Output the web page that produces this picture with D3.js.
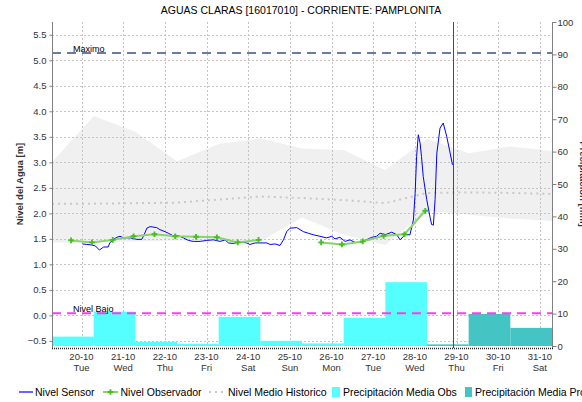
<!DOCTYPE html>
<html>
<head>
<meta charset="utf-8">
<script src="https://cdn.jsdelivr.net/npm/d3@7"></script>
<style>
  html, body { margin: 0; padding: 0; background: #fff; }
  svg { display: block; font-family: "Liberation Sans", Arial, sans-serif; }
</style>
</head>
<body>
<svg id="chart" width="582" height="402"></svg>
<script>
// ---- Data ----
const title = "AGUAS CLARAS [16017010] - CORRIENTE: PAMPLONITA";
const dayTicks = ["2020-10-20","2020-10-21","2020-10-22","2020-10-23","2020-10-24","2020-10-25",
                  "2020-10-26","2020-10-27","2020-10-28","2020-10-29","2020-10-30","2020-10-31"];
const levelTicks = [-0.5,0,0.5,1,1.5,2,2.5,3,3.5,4,4.5,5,5.5];
const rainTicks = [0,10,20,30,40,50,60,70,80,90,100];

const thresholdMax = 5.14;     // Maximo
const thresholdLow = 0.04;     // Nivel Bajo
const nowTime = "2020-10-28 22:00";

// Sensor water level [m]
const sensorLevel = [
  ["2020-10-20 00:30",1.40],["2020-10-20 03:00",1.39],["2020-10-20 06:00",1.38],["2020-10-20 08:00",1.36],
  ["2020-10-20 10:20",1.28],["2020-10-20 12:40",1.34],["2020-10-20 15:20",1.34],["2020-10-20 16:20",1.42],
  ["2020-10-20 18:20",1.49],["2020-10-20 20:20",1.53],["2020-10-20 22:10",1.55],["2020-10-21 00:10",1.52],
  ["2020-10-21 04:00",1.52],["2020-10-21 07:50",1.49],["2020-10-21 10:40",1.49],["2020-10-21 11:40",1.55],
  ["2020-10-21 13:40",1.71],["2020-10-21 15:30",1.74],["2020-10-21 19:20",1.72],["2020-10-21 21:10",1.68],
  ["2020-10-22 00:10",1.64],["2020-10-22 02:00",1.61],["2020-10-22 04:50",1.56],["2020-10-22 07:50",1.56],
  ["2020-10-22 10:40",1.52],["2020-10-22 13:30",1.47],["2020-10-22 16:20",1.45],["2020-10-22 20:20",1.45],
  ["2020-10-23 00:10",1.47],["2020-10-23 04:00",1.48],["2020-10-23 07:50",1.45],["2020-10-23 10:40",1.48],
  ["2020-10-23 12:40",1.42],["2020-10-23 15:20",1.41],["2020-10-23 19:20",1.44],["2020-10-23 23:10",1.42],
  ["2020-10-24 01:00",1.39],["2020-10-24 04:00",1.42],["2020-10-24 06:50",1.42],["2020-10-24 10:40",1.42],
  ["2020-10-24 12:40",1.39],["2020-10-24 15:30",1.40],["2020-10-24 18:20",1.37],["2020-10-24 20:20",1.48],
  ["2020-10-24 22:10",1.64],["2020-10-25 00:10",1.71],["2020-10-25 04:00",1.72],["2020-10-25 07:50",1.64],
  ["2020-10-25 10:40",1.61],["2020-10-25 13:30",1.58],["2020-10-25 17:20",1.55],["2020-10-25 21:10",1.52],
  ["2020-10-26 00:10",1.55],["2020-10-26 02:00",1.50],["2020-10-26 04:50",1.53],["2020-10-26 07:50",1.45],
  ["2020-10-26 10:40",1.48],["2020-10-26 13:30",1.43],["2020-10-26 17:20",1.43],["2020-10-26 21:10",1.50],
  ["2020-10-26 23:10",1.53],["2020-10-27 02:00",1.55],["2020-10-27 04:00",1.61],["2020-10-27 06:50",1.58],
  ["2020-10-27 10:40",1.63],["2020-10-27 13:40",1.58],["2020-10-27 15:30",1.48],["2020-10-27 18:20",1.58],
  ["2020-10-27 21:10",1.58],["2020-10-27 23:10",1.87],["2020-10-28 00:10",2.39],["2020-10-28 01:00",3.11],
  ["2020-10-28 02:00",3.54],["2020-10-28 03:00",3.38],["2020-10-28 03:50",3.11],["2020-10-28 04:50",2.72],
  ["2020-10-28 06:50",2.27],["2020-10-28 08:50",1.91],["2020-10-28 09:40",1.78],["2020-10-28 10:40",1.77],
  ["2020-10-28 11:40",2.27],["2020-10-28 12:40",3.18],["2020-10-28 14:30",3.67],["2020-10-28 16:20",3.77],
  ["2020-10-28 18:20",3.51],["2020-10-28 20:20",3.18],["2020-10-28 21:40",2.95]
];

// Observer readings [m] (null = no reading)
const observerLevel = [
  ["2020-10-19 18:00",1.47],["2020-10-20 06:00",1.43],["2020-10-20 18:00",1.48],["2020-10-21 06:00",1.55],
  ["2020-10-21 18:00",1.59],["2020-10-22 06:00",1.55],["2020-10-22 18:00",1.54],["2020-10-23 06:00",1.53],
  ["2020-10-23 18:00",1.43],["2020-10-24 06:00",1.48],["2020-10-24 18:00",null],["2020-10-25 06:00",null],
  ["2020-10-25 18:00",1.43],["2020-10-26 06:00",1.39],["2020-10-26 18:00",1.45],["2020-10-27 06:00",1.56],
  ["2020-10-27 18:00",1.59],["2020-10-28 06:00",2.05]
];

// Historical level: daily mean with min/max envelope [m]
const histDates = ["2020-10-19 07:00","2020-10-20 07:00","2020-10-21 07:00","2020-10-22 07:00","2020-10-23 07:00",
                   "2020-10-24 07:00","2020-10-25 07:00","2020-10-26 07:00","2020-10-27 07:00","2020-10-28 07:00",
                   "2020-10-29 07:00","2020-10-30 07:00","2020-10-31 07:00"];
const histUpper = [3.00,3.91,3.60,3.02,3.36,3.47,3.27,3.24,2.85,3.46,3.18,3.31,3.22];
const histLower = [1.43,1.43,1.45,1.47,1.47,1.45,1.92,1.58,1.38,2.05,1.97,1.90,1.85];
const histMean  = [2.19,2.19,2.20,2.21,2.27,2.33,2.30,2.26,2.20,2.40,2.41,2.40,2.38];

// Daily precipitation [mm], 07:00 to 07:00
const rainStart = ["2020-10-19","2020-10-20","2020-10-21","2020-10-22","2020-10-23","2020-10-24",
                   "2020-10-25","2020-10-26","2020-10-27","2020-10-28","2020-10-29","2020-10-30"];
const rainObs = [2.9,10.6,1.3,0.7,9.0,1.6,0.8,8.7,19.7,null,null,null];
const rainPro = [null,null,null,null,null,null,null,null,null,0.5,9.9,5.6];

const dayNames = ["Sun","Mon","Tue","Wed","Thu","Fri","Sat"];

// ---- Layout ----
const svg = d3.select("#chart");
const pL = 52, pR = 552, pT = 22, pB = 346;
const parseT = d3.timeParse("%Y-%m-%d %H:%M");
const parseD = d3.timeParse("%Y-%m-%d");

const x = d3.scaleTime()
  .domain([parseT("2020-10-19 07:00"), parseT("2020-10-31 07:00")])
  .range([pL, pR]);
const y = d3.scaleLinear().domain([-0.6, 5.75]).range([pB, pT]);
const yR = d3.scaleLinear().domain([0, 100]).range([pB, pT]);

const plot = svg.append("g");

// Historical envelope
const hist = histDates.map((d, i) => ({t: parseT(d), hi: histUpper[i], lo: histLower[i], m: histMean[i]}));
plot.append("path").datum(hist)
  .attr("fill", "#f0f0f0")
  .attr("d", d3.area().x(d => x(d.t)).y0(d => y(d.lo)).y1(d => y(d.hi)));

// Grid
const gridColor = "#c4c4c4";
plot.append("g").selectAll("line").data(levelTicks).join("line")
  .attr("x1", pL).attr("x2", pR)
  .attr("y1", d => Math.round(y(d)) + 0.5).attr("y2", d => Math.round(y(d)) + 0.5)
  .attr("stroke", gridColor).attr("stroke-dasharray", "2,2");
plot.append("g").selectAll("line").data(dayTicks).join("line")
  .attr("x1", d => Math.round(x(parseD(d))) + 0.5).attr("x2", d => Math.round(x(parseD(d))) + 0.5)
  .attr("y1", pT).attr("y2", pB)
  .attr("stroke", gridColor).attr("stroke-dasharray", "2,2");

// Precipitation bars
const bars = rainStart.map((d, i) => {
  const s = d3.timeHour.offset(parseD(d), 7);
  return {s, e: d3.timeDay.offset(s, 1), obs: rainObs[i], pro: rainPro[i]};
});
plot.append("g").selectAll("rect").data(bars.filter(b => b.obs != null)).join("rect")
  .attr("x", b => x(b.s)).attr("width", b => x(b.e) - x(b.s))
  .attr("y", b => yR(b.obs)).attr("height", b => yR(0) - yR(b.obs))
  .attr("fill", "#55ffff");
plot.append("g").selectAll("rect").data(bars.filter(b => b.pro != null)).join("rect")
  .attr("x", b => x(b.s)).attr("width", b => x(b.e) - x(b.s))
  .attr("y", b => yR(b.pro)).attr("height", b => yR(0) - yR(b.pro))
  .attr("fill", "#45c4c4");

// Historical mean
plot.append("path").datum(hist)
  .attr("fill", "none").attr("stroke", "#c8c8c8").attr("stroke-width", 2)
  .attr("stroke-dasharray", "2,4")
  .attr("d", d3.line().x(d => x(d.t)).y(d => y(d.m)));

// Threshold lines
function threshold(v, color, label) {
  plot.append("line")
    .attr("x1", pL).attr("x2", pR).attr("y1", y(v)).attr("y2", y(v))
    .attr("stroke", color).attr("stroke-width", 2).attr("stroke-dasharray", "9,6");
  plot.append("text").attr("x", pL + 21).attr("y", y(v) - 1.5)
    .attr("font-size", 9).attr("fill", "#000").text(label);
}
threshold(thresholdMax, "#6b7ba8", "Maximo");
threshold(thresholdLow, "#ee44ee", "Nivel Bajo");

// Sensor level
const sensor = sensorLevel.map(d => ({t: parseT(d[0]), v: d[1]}));
plot.append("path").datum(sensor)
  .attr("fill", "none").attr("stroke", "#0000ff").attr("stroke-width", 1)
  .attr("d", d3.line().x(d => x(d.t)).y(d => y(d.v)));

// Observer level
const obs = observerLevel.map(d => ({t: parseT(d[0]), v: d[1]}));
plot.append("path").datum(obs)
  .attr("fill", "none").attr("stroke", "#8ad46a").attr("stroke-width", 2)
  .attr("d", d3.line().defined(d => d.v != null).x(d => x(d.t)).y(d => y(d.v)));
const marker = d3.symbol().type(d3.symbolCross).size(18);
plot.append("g").selectAll("path").data(obs.filter(d => d.v != null)).join("path")
  .attr("transform", d => `translate(${x(d.t)},${y(d.v)})`)
  .attr("d", marker).attr("fill", "#44c020");

// Current time marker
const nowX = Math.round(x(parseT(nowTime))) + 0.5;
plot.append("line")
  .attr("x1", nowX).attr("x2", nowX)
  .attr("y1", pT).attr("y2", pB + 2)
  .attr("stroke", "#ff0000").attr("stroke-width", 1);

// ---- Axes ----
const axisColor = "#808080";
const gL = svg.append("g").attr("transform", `translate(${pL + 0.5},0)`)
  .call(d3.axisLeft(y).tickValues(levelTicks).tickFormat(d3.format(".1f")).tickSize(3).tickPadding(3));
const gR = svg.append("g").attr("transform", `translate(${pR + 0.5},0)`)
  .call(d3.axisRight(yR).tickValues(rainTicks).tickSize(4).tickPadding(1));
[gL, gR].forEach(g => {
  g.select(".domain").attr("stroke", axisColor).attr("d", `M0,${pT}V${pB + 2}`);
  g.selectAll(".tick line").attr("stroke", axisColor);
  g.selectAll(".tick text").attr("font-size", 9.5).attr("font-family", null).attr("fill", "#333");
});

// Bottom axis: dotted baseline with two-line date labels
svg.append("line").attr("x1", pL).attr("x2", pR + 1).attr("y1", pB + 2.5).attr("y2", pB + 2.5)
  .attr("stroke", "#222").attr("stroke-width", 1.5).attr("stroke-dasharray", "1,1");
const gX = svg.append("g").selectAll("g").data(dayTicks).join("g")
  .attr("transform", d => `translate(${x(parseD(d))},0)`);
gX.append("text").attr("y", 360).attr("text-anchor", "middle").attr("font-size", 9.5).attr("fill", "#333")
  .text(d => d3.timeFormat("%d-%m")(parseD(d)));
gX.append("text").attr("y", 371).attr("text-anchor", "middle").attr("font-size", 9.5).attr("fill", "#333")
  .text(d => dayNames[parseD(d).getDay()]);

// Axis titles
svg.append("text").attr("transform", `translate(23,${(pT + pB) / 2}) rotate(-90)`)
  .attr("text-anchor", "middle").attr("font-size", 9.5).attr("font-weight", "bold").attr("fill", "#333")
  .text("Nivel del Agua [m]");
svg.append("text").attr("transform", `translate(579.5,${(pT + pB) / 2}) rotate(90)`)
  .attr("text-anchor", "middle").attr("font-size", 9.5).attr("font-weight", "bold").attr("fill", "#333")
  .text("Precipitación [mm]");

// Title
svg.append("text").attr("x", 301).attr("y", 14).attr("text-anchor", "middle")
  .attr("font-size", 10.5).attr("fill", "#000").text(title);

// ---- Legend ----
const lg = svg.append("g").attr("font-size", 10.5).attr("fill", "#000");
const ly = 392;
lg.append("line").attr("x1", 19).attr("x2", 33).attr("y1", ly).attr("y2", ly).attr("stroke", "#0000ff").attr("stroke-width", 1.2);
lg.append("text").attr("x", 35).attr("y", ly + 4).text("Nivel Sensor");
lg.append("line").attr("x1", 103).attr("x2", 118).attr("y1", ly).attr("y2", ly).attr("stroke", "#8ad46a").attr("stroke-width", 2);
lg.append("path").attr("transform", `translate(110.5,${ly})`).attr("d", marker).attr("fill", "#44c020");
lg.append("text").attr("x", 120.5).attr("y", ly + 4).text("Nivel Observador");
lg.append("line").attr("x1", 209).attr("x2", 225).attr("y1", ly).attr("y2", ly).attr("stroke", "#c8c8c8").attr("stroke-width", 2).attr("stroke-dasharray", "2,4");
lg.append("text").attr("x", 228).attr("y", ly + 4).text("Nivel Medio Historico");
lg.append("rect").attr("x", 332).attr("y", ly - 5).attr("width", 8).attr("height", 10).attr("fill", "#55ffff");
lg.append("text").attr("x", 343).attr("y", ly + 4).text("Precipitación Media Obs");
lg.append("rect").attr("x", 465).attr("y", ly - 5).attr("width", 7).attr("height", 10).attr("fill", "#45c4c4");
lg.append("text").attr("x", 475).attr("y", ly + 4).text("Precipitación Media Pronóstico");
</script>
</body>
</html>
